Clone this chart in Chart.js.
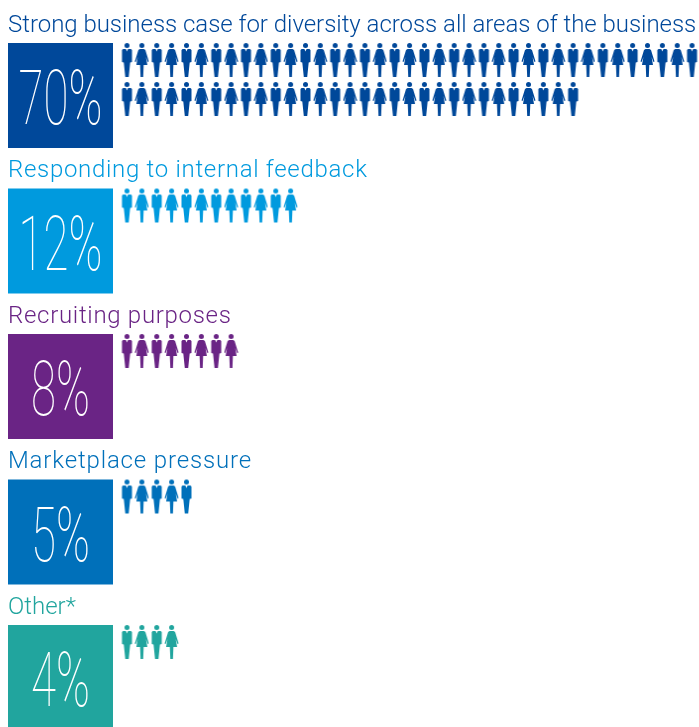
<!DOCTYPE html>
<html>
<head>
    <title>Diversity business case</title>
    <script src="https://cdn.jsdelivr.net/npm/chart.js"></script>
    <style>
        html, body { margin: 0; padding: 0; background: #fff; overflow: hidden; }
        canvas { display: block; }
    </style>
</head>
<body>
    <canvas id="people-chart" width="699" height="727"></canvas>

    <script>
        const categories = [
            'Strong business case for diversity across all areas of the business',
            'Responding to internal feedback',
            'Recruiting purposes',
            'Marketplace pressure',
            'Other*'
        ];
        const values = [70, 12, 8, 5, 4];
        const colors = ['#00489A', '#009ADE', '#6A2485', '#0070BA', '#21A59E'];
        const tracking = ['-0.03px', '0.7px', '0.7px', '0.85px', '0px'];

        const perRow = 39; // figures on one row before wrapping
        const stepX = 14.87;
        const stepY = 145.5;
        const rowGap = 39 / stepY;

        // draws one little man or woman for use as a point style
        function makeFigure(color, isMan) {
            const c = document.createElement('canvas');
            c.width = 15;
            c.height = 36;
            const g = c.getContext('2d');
            g.fillStyle = color;
            g.beginPath();
            g.arc(7.5, 3.6, 2.5, 0, Math.PI * 2);
            g.fill();
            g.beginPath();
            if (isMan) {
                g.moveTo(3.6, 7);
                g.lineTo(11.4, 7);
                g.lineTo(12.5, 8);
                g.lineTo(12.5, 20);
                g.lineTo(10.7, 20.5);
                g.lineTo(9.2, 35);
                g.lineTo(5.8, 35);
                g.lineTo(4.3, 20.5);
                g.lineTo(2.5, 20);
                g.lineTo(2.5, 8);
            } else {
                g.moveTo(5.5, 7);
                g.lineTo(9.5, 7);
                g.lineTo(11, 8);
                g.lineTo(14.5, 19.5);
                g.lineTo(13.4, 20);
                g.lineTo(11.6, 15);
                g.lineTo(13, 23);
                g.lineTo(9.3, 23);
                g.lineTo(8.8, 35);
                g.lineTo(6.2, 35);
                g.lineTo(5.7, 23);
                g.lineTo(2, 23);
                g.lineTo(3.4, 15);
                g.lineTo(1.6, 20);
                g.lineTo(0.5, 19.5);
                g.lineTo(4, 8);
            }
            g.closePath();
            g.fill();
            if (isMan) {
                // collar
                g.fillStyle = '#fff';
                g.beginPath();
                g.moveTo(6.4, 7);
                g.lineTo(8.6, 7);
                g.lineTo(7.5, 9.5);
                g.closePath();
                g.fill();
            }
            return c;
        }

        const figures = colors.map(color => ({
            man: makeFigure(color, true),
            woman: makeFigure(color, false)
        }));

        const figureSets = values.map((value, i) => {
            const points = [];
            for (let n = 0; n < value; n++) {
                points.push({
                    x: n % perRow,
                    y: i + Math.floor(n / perRow) * rowGap
                });
            }
            return {
                data: points,
                pointRadius: 8,
                pointBorderWidth: 0,
                clip: false,
                pointStyle: ctx => (ctx.raw.x % 2 === 0 ? figures[i].man : figures[i].woman)
            };
        });

        const squareX = (60.5 - 127) / stepX;
        const squareOffset = 35.5 / stepY; // square centre sits below the first row
        const squareSet = {
            data: categories.map((c, i) => ({ x: squareX, y: i + squareOffset })),
            pointStyle: 'rect',
            pointRadius: 105 / Math.SQRT2,
            pointBorderWidth: 0,
            backgroundColor: colors,
            pointBackgroundColor: colors,
            clip: false
        };

        // headings above the squares and the percentages inside them
        const textPlugin = {
            id: 'texts',
            afterDatasetsDraw(chart) {
                const g = chart.ctx;
                const yScale = chart.scales.y;
                const xScale = chart.scales.x;
                categories.forEach((name, i) => {
                    const rowY = yScale.getPixelForValue(i);
                    g.save();
                    g.fillStyle = colors[i];
                    g.textAlign = 'left';
                    g.textBaseline = 'alphabetic';
                    g.font = '300 24px Roboto';
                    g.letterSpacing = tracking[i];
                    g.fillText(name, 8, rowY - 28.5);
                    g.restore();

                    g.save();
                    g.fillStyle = '#fff';
                    g.textAlign = 'center';
                    g.textBaseline = 'alphabetic';
                    g.translate(xScale.getPixelForValue(squareX), rowY + 64);
                    g.scale(0.6, 1);
                    g.font = '100 76px Roboto';
                    g.fillText(values[i] + '%', 0, 0);
                    g.restore();
                });
            }
        };

        new Chart(document.getElementById('people-chart').getContext('2d'), {
            type: 'scatter',
            data: { datasets: [squareSet, ...figureSets] },
            plugins: [textPlugin],
            options: {
                responsive: false,
                animation: false,
                layout: { padding: 0, autoPadding: false },
                plugins: {
                    legend: { display: false },
                    tooltip: { enabled: false }
                },
                scales: {
                    x: { type: 'linear', display: false, min: -127 / stepX, max: (699 - 127) / stepX },
                    y: { type: 'linear', display: false, reverse: true, min: -60 / stepY, max: (727 - 60) / stepY }
                }
            }
        });
    </script>
</body>
</html>
